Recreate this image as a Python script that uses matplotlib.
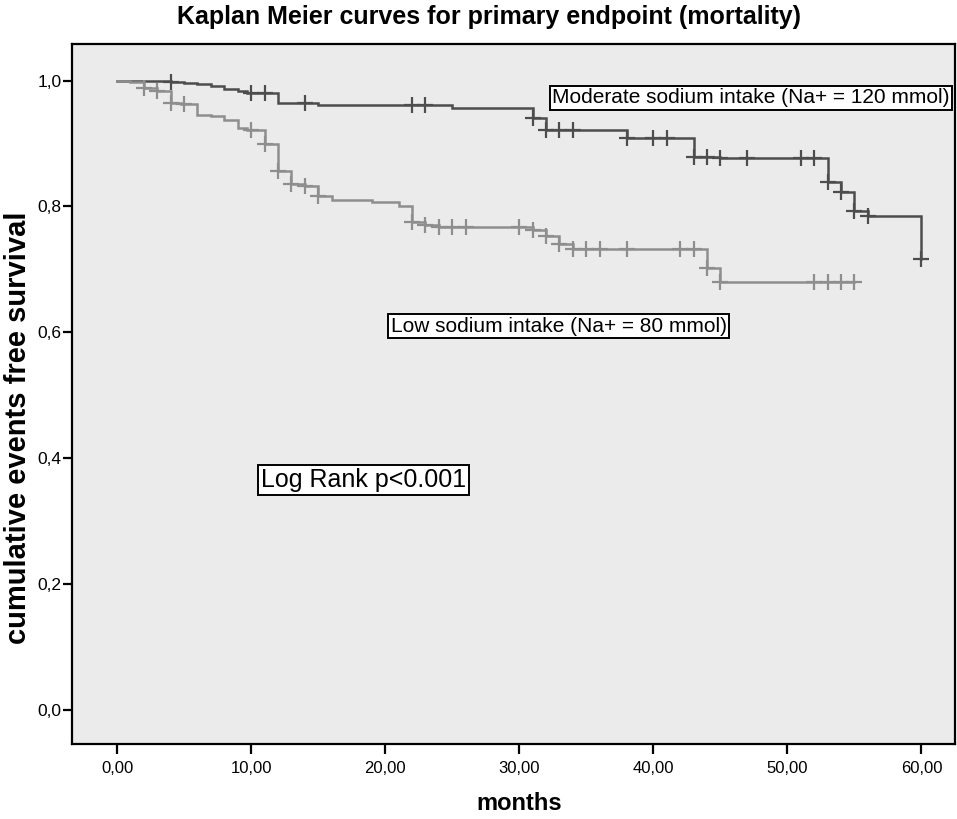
import matplotlib
matplotlib.use("Agg")
import matplotlib.pyplot as plt
import numpy as np

plt.rcParams['font.family'] = ['Liberation Sans', 'DejaVu Sans']

# ---- data ----
mod_times = [0, 4, 5, 6, 7, 8, 9, 9.7, 12, 15, 25, 31, 32, 38, 43, 45, 53, 54, 55, 56, 60]
mod_surv = [1.0, 0.998, 0.996, 0.994, 0.991, 0.987, 0.983, 0.980, 0.964, 0.961, 0.956,
            0.940, 0.921, 0.909, 0.879, 0.877, 0.839, 0.823, 0.792, 0.785, 0.717]
mod_censor = [4, 10, 11, 14, 22, 23, 31, 32, 33, 34, 38, 40, 41, 43, 44, 45, 47, 51, 52,
              53, 54, 55, 56, 60]
mod_end = 60

low_times = [0, 1, 2, 3, 4, 4.8, 6, 7, 8, 9, 9.7, 11, 12, 13, 14, 15, 16, 19, 21, 22, 23,
             24, 31, 32, 33, 34, 44, 45]
low_surv = [1.0, 0.997, 0.988, 0.983, 0.965, 0.962, 0.946, 0.944, 0.937, 0.924, 0.921,
            0.899, 0.856, 0.836, 0.833, 0.817, 0.810, 0.807, 0.801, 0.776, 0.770, 0.768,
            0.762, 0.753, 0.741, 0.733, 0.702, 0.680]
low_censor = [2, 3, 4, 5, 10, 11, 12, 13, 14, 15, 22, 23, 24, 25, 26, 30, 31, 32, 33, 34,
              35, 36, 38, 42, 43, 44, 45, 52, 53, 54, 55]
low_end = 55

x_ticks = [0, 10, 20, 30, 40, 50, 60]
x_ticklabels = ["0,00", "10,00", "20,00", "30,00", "40,00", "50,00", "60,00"]
y_ticks = [0.0, 0.2, 0.4, 0.6, 0.8, 1.0]
y_ticklabels = ["0,0", "0,2", "0,4", "0,6", "0,8", "1,0"]

title = "Kaplan Meier curves for primary endpoint (mortality)"
xlabel = "months"
ylabel = "cumulative events free survival"
label_mod = "Moderate sodium intake (Na+ = 120 mmol)"
label_low = "Low sodium intake (Na+ = 80 mmol)"
label_lr = "Log Rank p<0.001"

# ---- figure ----
W, H = 957, 819
fig = plt.figure(figsize=(W / 100, H / 100), dpi=100)
fig.patch.set_facecolor('white')
ax = fig.add_axes([72 / W, 1 - 744 / H, (955 - 72) / W, (744 - 44) / H])
ax.set_facecolor('#ebebeb')

def step_value(times, surv, t):
    idx = np.searchsorted(times, t, side='right') - 1
    return surv[idx]

def draw_curve(times, surv, censor, end, color, z):
    tt = list(times) + [end]
    ss = list(surv) + [surv[-1]]
    ax.step(tt, ss, where='post', color=color, lw=1.8, zorder=z, solid_joinstyle='miter')
    cy = [step_value(np.array(times), np.array(surv), c) for c in censor]
    ax.plot(censor, cy, ls='none', marker='+', ms=11, mew=1.6, color=color, zorder=z)

draw_curve(mod_times, mod_surv, mod_censor, mod_end, '#4d4d4d', 3)
draw_curve(low_times, low_surv, low_censor, low_end, '#8e8e8e', 4)

ax.set_xlim(-3.36, 62.5)
ax.set_ylim(-0.054, 1.058)
ax.set_xticks(x_ticks)
ax.set_xticklabels(x_ticklabels, fontsize=12)
ax.set_yticks(y_ticks)
ax.set_yticklabels(y_ticklabels, fontsize=12.5)
ax.tick_params(axis='x', direction='out', length=7, width=1.6, color='black', pad=5)
ax.tick_params(axis='y', direction='out', length=6.5, width=1.6, color='black', pad=1)
for s in ax.spines.values():
    s.set_linewidth(1.6)
    s.set_color('black')
ax.tick_params(top=False, right=False)

box = dict(boxstyle='square,pad=0.12', facecolor='white', edgecolor='black', linewidth=1.4)
ax.text(32.45, 0.973, label_mod, fontsize=15, ha='left', va='center', bbox=box, zorder=6)
ax.text(20.4, 0.610, label_low, fontsize=15, ha='left', va='center', bbox=box, zorder=6)
ax.text(10.72, 0.366, label_lr, fontsize=18, ha='left', va='center', bbox=box, zorder=6)

fig.text(489 / W, 1 - 17 / H, title, fontsize=18, fontweight='bold', ha='center', va='center')
fig.text(519 / W, 1 - 803 / H, xlabel, fontsize=17, fontweight='bold', ha='center', va='center')
fig.text(18 / W, 1 - 428 / H, ylabel, fontsize=21, fontweight='bold', ha='center', va='center',
         rotation=90)

fig.savefig('out.png', dpi=100, facecolor='white')
